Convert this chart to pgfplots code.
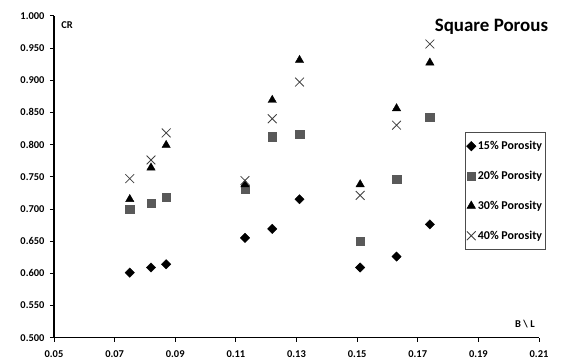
\documentclass[border=0pt]{standalone}
\usepackage{fontspec}
\setmainfont{Carlito}
\usepackage{pgfplots}
\pgfplotsset{compat=1.18}
\definecolor{sqgray}{HTML}{595959}
\definecolor{xgray}{HTML}{404040}
\begin{document}
\begin{tikzpicture}[x=1bp,y=1bp]
\path[use as bounding box] (-54bp,-25.3bp) rectangle (508bp,337.7bp);
\begin{axis}[
  scale only axis,
  width=485bp, height=322bp,
  xmin=0.05, xmax=0.21, ymin=0.5, ymax=1.0,
  xtick={0.05,0.07,...,0.21},
  ytick={0.5,0.55,...,1.0},
  axis x line*=bottom, axis y line*=left,
  axis line style={line width=1.2pt, black, -},
  tick style={black, line width=0.8pt},
  tick align=outside, major tick length=4bp,
  /pgf/number format/assume math mode=true,
  xticklabel style={/pgf/number format/.cd, fixed, fixed zerofill, precision=2},
  yticklabel style={/pgf/number format/.cd, fixed, fixed zerofill, precision=3},
  ticklabel style={font=\fontsize{10.5}{12}\selectfont\bfseries},
  xticklabel shift=5bp, yticklabel shift=2bp,
  legend cell align=left,
  legend style={at={(0.847,0.639)}, anchor=north west, draw=black!70, line width=0.6pt,
    font=\fontsize{12}{14}\selectfont\bfseries, row sep=16bp, inner xsep=1.5bp, inner ysep=7bp},
  legend image code/.code={\draw[#1] plot coordinates {(0bp,0bp)};},
  clip=false,
]
\addplot[only marks, mark=square*, mark size=3.3bp, mark options={rotate=45, fill=black, draw=black}] coordinates {
(0.075,0.601) (0.082,0.609) (0.087,0.614) (0.113,0.655) (0.122,0.669) (0.131,0.715) (0.151,0.609) (0.163,0.626) (0.174,0.676)};
\addlegendentry{15\% Porosity}
\addplot[only marks, mark=square*, mark size=4.2bp, mark options={fill=sqgray, draw=sqgray}] coordinates {
(0.075,0.700) (0.082,0.709) (0.087,0.718) (0.113,0.731) (0.122,0.812) (0.131,0.816) (0.151,0.650) (0.163,0.746) (0.174,0.842)};
\addlegendentry{20\% Porosity}
\addplot[only marks, mark=triangle*, mark size=4.8bp, mark options={fill=black, draw=black}] coordinates {
(0.075,0.715) (0.082,0.764) (0.087,0.799) (0.113,0.738) (0.122,0.869) (0.131,0.931) (0.151,0.738) (0.163,0.856) (0.174,0.927)};
\addlegendentry{30\% Porosity}
\addplot[only marks, mark=x, mark size=6.2bp, mark options={draw=xgray, line width=0.8pt}] coordinates {
(0.075,0.747) (0.082,0.776) (0.087,0.818) (0.113,0.744) (0.122,0.840) (0.131,0.897) (0.151,0.721) (0.163,0.830) (0.174,0.956)};
\addlegendentry{40\% Porosity}
\node[font=\fontsize{10.5}{12}\selectfont\bfseries] at (rel axis cs:0.027,0.971) {CR};
\node[font=\fontsize{10.5}{12}\selectfont\bfseries] at (rel axis cs:0.971,0.043) {B \textbackslash\ L};
\node[font=\fontsize{19}{22}\selectfont\bfseries] at (rel axis cs:0.902,0.965) {Square Porous};
\end{axis}
\end{tikzpicture}
\end{document}
